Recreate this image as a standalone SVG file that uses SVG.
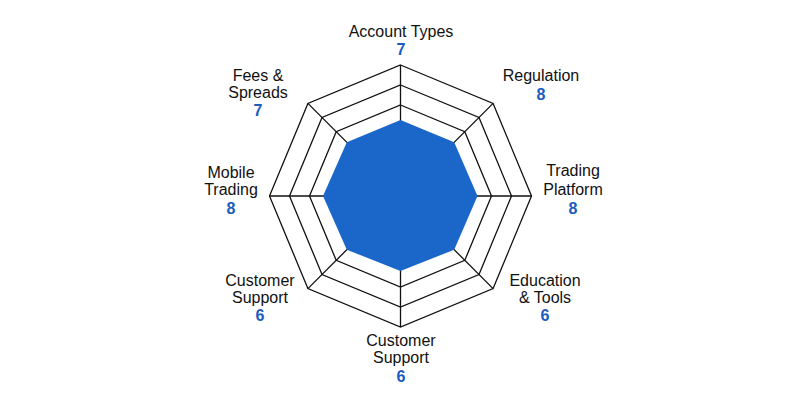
<svg xmlns="http://www.w3.org/2000/svg" width="800" height="400" viewBox="0 0 800 400">
<style>
.l{font-family:"Liberation Sans",Arial,sans-serif;font-size:16px;fill:#111;text-anchor:middle}
.v{font-family:"Liberation Sans",Arial,sans-serif;font-size:16px;fill:#1a5cc0;text-anchor:middle;font-weight:bold}
.g{fill:none;stroke:#111;stroke-width:1.3;stroke-linejoin:miter}
</style>
<rect width="800" height="400" fill="#fff"/>
<g id="grid">
<polygon class="g" points="400.5,65 493.1,103.4 531.5,196 493.1,288.6 400.5,327 307.9,288.6 269.5,196 307.9,103.4"/>
<polygon class="g" points="400.5,85 479,117.5 511.5,196 479,274.5 400.5,307 322,274.5 289.5,196 322,117.5"/>
<polygon class="g" points="400.5,105 464.8,131.7 491.5,196 464.8,260.3 400.5,287 336.2,260.3 309.5,196 336.2,131.7"/>
</g>
<g id="connectors">
<path class="g" d="M400.5,65V327M269.5,196H531.5M307.9,103.4L493.1,288.6M493.1,103.4L307.9,288.6"/>
</g>
<g id="data">
<polygon fill="#1b66c9" points="400.5,120 454.2,142.3 477.5,196 454.2,249.7 400.5,271 346.8,249.7 323,196 346.8,142.3"/>
</g>
<g id="n1"><text class="l" x="401" y="37">Account Types</text><text class="v" x="401" y="55">7</text></g>
<g id="n2"><text class="l" x="541" y="81">Regulation</text><text class="v" x="541" y="100">8</text></g>
<g id="n3"><text class="l" x="573" y="176">Trading</text><text class="l" x="573" y="195">Platform</text><text class="v" x="573" y="214">8</text></g>
<g id="n4"><text class="l" x="545" y="286">Education</text><text class="l" x="545" y="303">&amp; Tools</text><text class="v" x="545" y="321">6</text></g>
<g id="n5"><text class="l" x="401" y="346">Customer</text><text class="l" x="401" y="363">Support</text><text class="v" x="401" y="382">6</text></g>
<g id="n6"><text class="l" x="260" y="286">Customer</text><text class="l" x="260" y="303">Support</text><text class="v" x="260" y="321">6</text></g>
<g id="n7"><text class="l" x="231" y="178">Mobile</text><text class="l" x="231" y="195">Trading</text><text class="v" x="231" y="214">8</text></g>
<g id="n8"><text class="l" x="258" y="81">Fees &amp;</text><text class="l" x="258" y="98">Spreads</text><text class="v" x="258" y="116">7</text></g>
</svg>
